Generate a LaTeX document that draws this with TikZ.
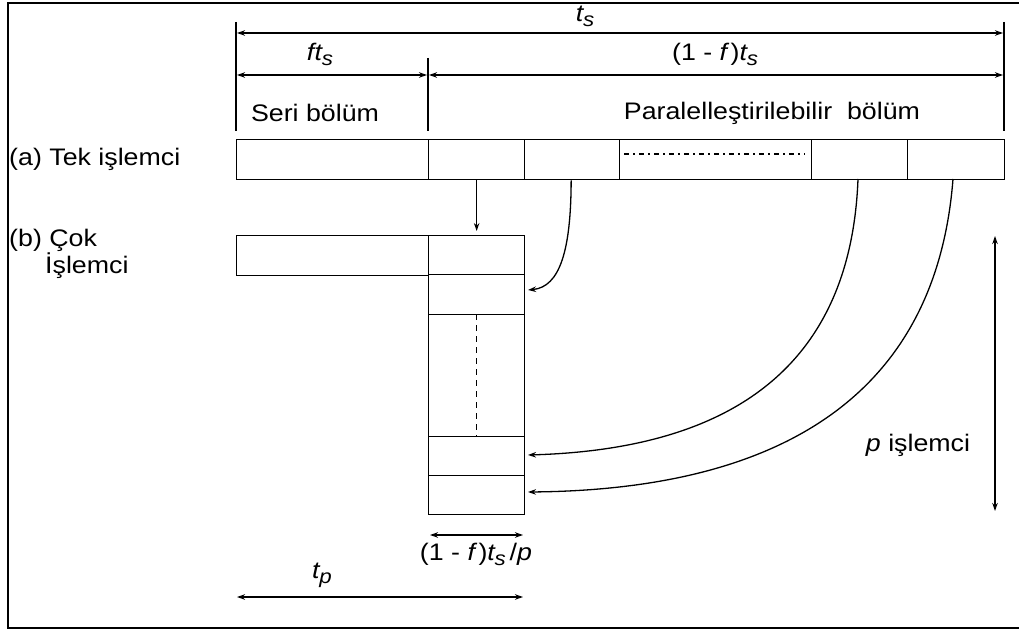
\documentclass[tikz,border=0pt]{standalone}
\usepackage{fontspec}
\setmainfont{Liberation Sans}[FakeStretch=1.12]
\usetikzlibrary{arrows.meta}
\newcommand\tsub[1]{\textit{t}\hspace{-0.05em}\raisebox{-0.4ex}{\fontsize{20}{20}\selectfont\textit{#1}}}
\begin{document}
\begin{tikzpicture}[x=1bp,y=-1bp,
  lw/.style={line width=1.3bp},
  cell/.style={lw,draw,rectangle,inner sep=0pt,minimum height=40bp,anchor=north west},
  tip/.style={-{Stealth[length=8bp,width=5.5bp]}},
  dtip/.style={{Stealth[length=8bp,width=5.5bp]}-{Stealth[length=8bp,width=5.5bp]}},
  lbl/.style={font=\fontsize{24}{26}\selectfont,inner sep=0pt}
]
\useasboundingbox (0,0) rectangle (1019,630);
% frame
\draw[lw] (1019,3) -- (8,3) -- (8,628) -- (1019,628);

% top row cells
\node[cell,minimum width=192bp] (a0) at (236,139) {};
\node[cell,minimum width=96bp]  (a1) at (428,139) {};
\node[cell,minimum width=95bp]  (a2) at (524,139) {};
\node[cell,minimum width=192bp] (a3) at (619,139) {};
\node[cell,minimum width=96bp]  (a4) at (811,139) {};
\node[cell,minimum width=97bp]  (a5) at (907,139) {};
\draw[lw,dash pattern=on 5bp off 4bp on 2bp off 4bp] (624,154) -- (805,154);

% multiprocessor
\node[cell,minimum width=192bp] (bs) at (236,235) {};
\node[cell,minimum width=96bp,minimum height=39bp] (c1) at (428,235) {};
\node[cell,minimum width=96bp,minimum height=40bp] (c2) at (428,274) {};
\node[cell,minimum width=96bp,minimum height=122bp] (c3) at (428,314) {};
\node[cell,minimum width=96bp,minimum height=39bp] (c4) at (428,436) {};
\node[cell,minimum width=96bp,minimum height=39bp] (c5) at (428,475) {};
\draw[lw,dash pattern=on 6bp off 5bp] (c3.north) -- (c3.south);

% tick coordinates
\coordinate (tl0) at (236,22);  \coordinate (tl1) at (236,131);
\coordinate (tr0) at (1004,22); \coordinate (tr1) at (1004,131);
\coordinate (tm0) at (428,58);  \coordinate (tm1) at (428,131);
\draw[lw] (tl0) -- (tl1);
\draw[lw] (tr0) -- (tr1);
\draw[lw] (tm0) -- (tm1);
\coordinate (ts1) at (237,33); \coordinate (ts2) at (1003,33);
\draw[lw,dtip] (ts1) -- (ts2);
\coordinate (f1) at (237,75); \coordinate (f2) at (427,75);
\coordinate (g1) at (429,75); \coordinate (g2) at (1003,75);
\draw[lw,dtip] (f1) -- (f2);
\draw[lw,dtip] (g1) -- (g2);

% labels
\node[lbl] (lts) at (585,16) {\tsub{s}};
\node[lbl] (lfts) at (320,54) {\textit{f}\hspace{-0.08em}\tsub{s}};
\node[lbl] (l1fts) at (715,54) {(1 - \textit{f}\hspace{0.05em})\tsub{s}};
\node[lbl] (lseri) at (315,113) {Seri bölüm};
\node[lbl] (lpar) at (772,113) {Paralelleştirilebilir\ \ bölüm};
\node[lbl,anchor=west] (la) at (9,159) {(a) Tek işlemci};
\node[lbl,anchor=west] (lb) at (9,240) {(b) Çok};
\node[lbl,anchor=west] (lb2) at (45,266) {İşlemci};
\node[lbl] (lp) at (918,445) {\textit{p} işlemci};
\node[lbl] (lfp) at (476,554) {(1 - \textit{f}\hspace{0.05em})\tsub{s}\,/\textit{p}};
\node[lbl] (ltp) at (322,575) {\tsub{p}};

% connectors
\coordinate (e2) at (528,290);
\coordinate (e4) at (528,455);
\coordinate (e5) at (528,492);
\draw[lw,tip] (a1.south) -- ([yshift=4bp]c1.north);
\draw[lw,tip] ([xshift=-1bp]a2.south) .. controls (571,250) and (560,287) .. (e2);
\draw[lw,tip] (858,179) .. controls (850,390) and (700,450) .. (e4);
\draw[lw,tip] (953,179) .. controls (935,410) and (760,490) .. (e5);

% right arrow
\coordinate (r1) at (995,236); \coordinate (r2) at (995,511);
\draw[lw,dtip] (r1) -- (r2);

% bottom dimension arrows
\coordinate (p1) at (430,535); \coordinate (p2) at (523,535);
\draw[lw,dtip] (p1) -- (p2);
\coordinate (q1) at (237,597); \coordinate (q2) at (523,597);
\draw[lw,dtip] (q1) -- (q2);
\end{tikzpicture}
\end{document}
